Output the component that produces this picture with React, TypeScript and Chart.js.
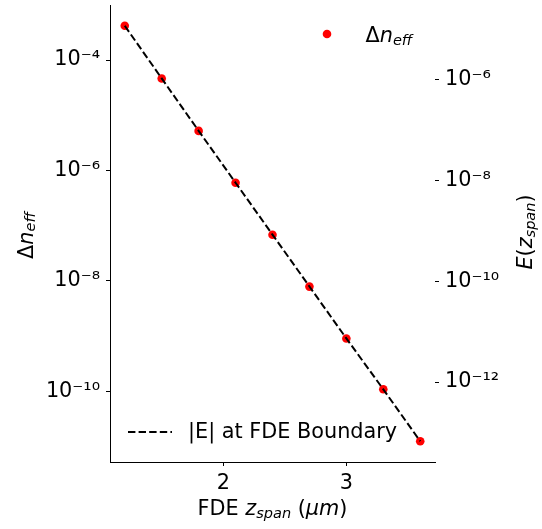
import React, { useEffect, useRef } from "react";
import { Chart, registerables } from "chart.js";

Chart.register(...registerables);

// ---- data ----
const zSpan = [1.2, 1.5, 1.8, 2.1, 2.4, 2.7, 3.0, 3.3, 3.6];
const deltaNeff = [4.17e-4, 4.63e-5, 5.21e-6, 5.98e-7, 6.87e-8, 7.89e-9, 9.07e-10, 1.09e-10, 1.25e-11];
const eBoundary = [1.19e-5, 1.07e-6, 9.75e-8, 9.08e-9, 8.47e-10, 7.89e-11, 7.34e-12, 7.16e-13, 6.67e-14];
const xTicks = [2, 3];
const leftTicks = [1e-4, 1e-6, 1e-8, 1e-10];
const rightTicks = [1e-6, 1e-8, 1e-10, 1e-12];

const FAMILY = '"DejaVu Sans"';
const FS = 20.8;

type Seg = { t: string; it?: boolean; sub?: boolean };

const xTitle: Seg[] = [
  { t: "FDE " },
  { t: "z", it: true },
  { t: "span", it: true, sub: true },
  { t: " (" },
  { t: "μm", it: true },
  { t: ")" },
];
const yTitle: Seg[] = [{ t: "Δ" }, { t: "n", it: true }, { t: "eff", it: true, sub: true }];
const y2Title: Seg[] = [
  { t: "E", it: true },
  { t: "(" },
  { t: "z", it: true },
  { t: "span", it: true, sub: true },
  { t: ")" },
];
const legendScatter: Seg[] = yTitle;
const legendLine: Seg[] = [{ t: "|E| at FDE Boundary" }];

const SUP: Record<string, string> = {
  "-": "⁻", "0": "⁰", "1": "¹", "2": "²", "3": "³", "4": "⁴",
  "5": "⁵", "6": "⁶", "7": "⁷", "8": "⁸", "9": "⁹",
};
const fmtPow = (v: number) =>
  "10" + String(Math.round(Math.log10(v))).split("").map((c) => SUP[c] || c).join("");

function logLimits(vals: number[]): [number, number] {
  const l = vals.map((v) => Math.log10(v));
  const lo = Math.min(...l), hi = Math.max(...l);
  const m = (hi - lo) * 0.05;
  return [Math.pow(10, lo - m), Math.pow(10, hi + m)];
}
function linLimits(vals: number[]): [number, number] {
  const lo = Math.min(...vals), hi = Math.max(...vals);
  const m = (hi - lo) * 0.05;
  return [lo - m, hi + m];
}

function segFont(s: Seg) {
  const sz = s.sub ? FS * 0.7 : FS;
  return `${s.it ? "italic " : ""}${sz}px ${FAMILY}`;
}
function drawRich(ctx: CanvasRenderingContext2D, segs: Seg[], x: number, y: number, align: "left" | "center") {
  ctx.save();
  ctx.textBaseline = "alphabetic";
  ctx.textAlign = "left";
  ctx.fillStyle = "#000";
  let w = 0;
  for (const s of segs) {
    ctx.font = segFont(s);
    w += ctx.measureText(s.t).width;
  }
  let cx = align === "center" ? x - w / 2 : x;
  for (const s of segs) {
    ctx.font = segFont(s);
    ctx.fillText(s.t, cx, y + (s.sub ? FS * 0.13 : 0));
    cx += ctx.measureText(s.t).width;
  }
  ctx.restore();
}
function drawRotated(ctx: CanvasRenderingContext2D, segs: Seg[], x: number, y: number) {
  ctx.save();
  ctx.translate(x, y);
  ctx.rotate(-Math.PI / 2);
  drawRich(ctx, segs, 0, 0, "center");
  ctx.restore();
}

const decorPlugin = {
  id: "decor",
  afterDraw(chart: any) {
    const ctx: CanvasRenderingContext2D = chart.ctx;
    const a = chart.chartArea;
    // axis titles
    drawRich(ctx, xTitle, (a.left + a.right) / 2, 515, "center");
    drawRotated(ctx, yTitle, 32.5, 235.5);
    drawRotated(ctx, y2Title, 532, 232);
    // legend: scatter marker (top right)
    ctx.save();
    ctx.fillStyle = "#ff0000";
    ctx.beginPath();
    ctx.arc(327, 34, 4.3, 0, Math.PI * 2);
    ctx.fill();
    ctx.restore();
    drawRich(ctx, legendScatter, 365.5, 42, "left");
    // legend: dashed line (bottom left)
    ctx.save();
    ctx.strokeStyle = "#000";
    ctx.lineWidth = 2;
    ctx.setLineDash([7.4, 3.2]);
    ctx.beginPath();
    ctx.moveTo(128, 432);
    ctx.lineTo(172, 432);
    ctx.stroke();
    ctx.restore();
    drawRich(ctx, legendLine, 188, 438, "left");
  },
};

export default function App() {
  const ref = useRef<HTMLCanvasElement | null>(null);
  useEffect(() => {
    if (!ref.current) return;
    const xLim = linLimits(zSpan);
    const yLim = logLimits(deltaNeff);
    const y2Lim = logLimits(eBoundary);
    const tickFont = { family: "DejaVu Sans", size: FS };
    const chart = new Chart(ref.current, {
      type: "scatter",
      data: {
        datasets: [
          {
            type: "line",
            label: "|E| at FDE Boundary",
            data: zSpan.map((x, i) => ({ x, y: eBoundary[i] })),
            yAxisID: "y2",
            borderColor: "#000",
            borderWidth: 2,
            borderDash: [7.4, 3.2],
            pointRadius: 0,
            fill: false,
            tension: 0,
            order: 0,
          } as any,
          {
            type: "scatter",
            label: "Δn_eff",
            data: zSpan.map((x, i) => ({ x, y: deltaNeff[i] })),
            yAxisID: "y",
            backgroundColor: "#ff0000",
            borderWidth: 0,
            pointRadius: 4.3,
            order: 1,
          } as any,
        ],
      },
      options: {
        animation: false,
        responsive: false,
        devicePixelRatio: 1,
        events: [],
        layout: { padding: { top: 5, left: 0, right: 0, bottom: 0 } },
        plugins: { legend: { display: false }, tooltip: { enabled: false } },
        scales: {
          x: {
            type: "linear",
            position: "bottom",
            min: xLim[0],
            max: xLim[1],
            afterBuildTicks: (s: any) => {
              s.ticks = xTicks.map((v) => ({ value: v }));
            },
            afterFit: (s: any) => {
              s.height = 67;
              s.paddingLeft = 0;
              s.paddingRight = 0;
            },
            grid: { drawOnChartArea: false, drawTicks: true, tickLength: 4, color: "#000", lineWidth: 1 },
            border: { display: true, color: "#000", width: 1 },
            ticks: { color: "#000", font: tickFont, padding: 5, maxRotation: 0, autoSkip: false, callback: (v: any) => String(v) },
          },
          y: {
            type: "logarithmic",
            position: "left",
            min: yLim[0],
            max: yLim[1],
            afterBuildTicks: (s: any) => {
              s.ticks = leftTicks.map((v) => ({ value: v }));
            },
            afterFit: (s: any) => {
              s.width = 110;
              s.paddingTop = 0;
              s.paddingBottom = 0;
            },
            grid: { drawOnChartArea: false, drawTicks: true, tickLength: 4, color: "#000", lineWidth: 1 },
            border: { display: true, color: "#000", width: 1 },
            ticks: { color: "#000", font: tickFont, padding: 6, autoSkip: false, callback: (v: any) => fmtPow(Number(v)) },
          },
          y2: {
            type: "logarithmic",
            position: "right",
            min: y2Lim[0],
            max: y2Lim[1],
            afterBuildTicks: (s: any) => {
              s.ticks = rightTicks.map((v) => ({ value: v }));
            },
            afterFit: (s: any) => {
              s.width = 107;
              s.paddingTop = 0;
              s.paddingBottom = 0;
            },
            grid: { drawOnChartArea: false, drawTicks: true, tickLength: 4, color: "#000", lineWidth: 1 },
            border: { display: false },
            ticks: { color: "#000", font: tickFont, padding: 6, autoSkip: false, callback: (v: any) => fmtPow(Number(v)) },
          },
        },
      } as any,
      plugins: [decorPlugin],
    });
    return () => chart.destroy();
  }, []);
  return (
    <div style={{ position: "absolute", left: 0, top: 0, width: 542, height: 529, background: "#fff" }}>
      <canvas ref={ref} width={542} height={529} style={{ display: "block", width: 542, height: 529 }} />
    </div>
  );
}
